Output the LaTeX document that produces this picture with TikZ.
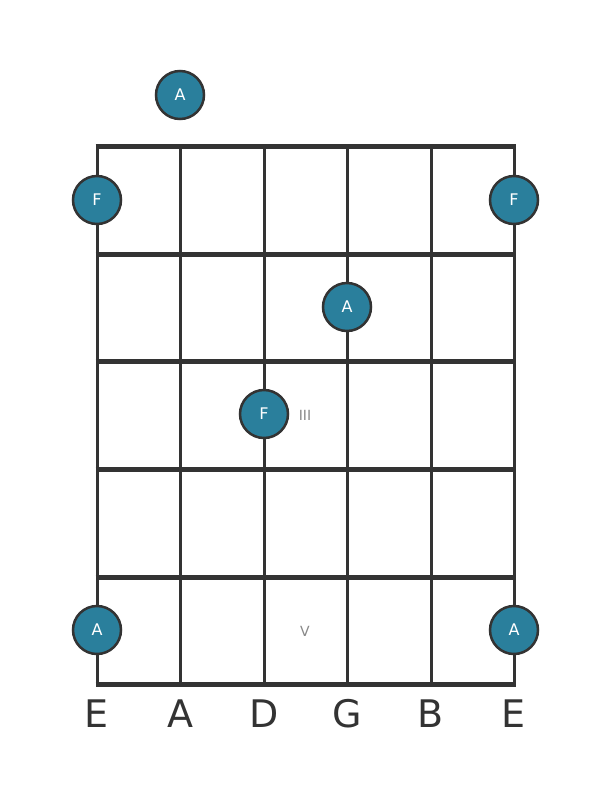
\documentclass[tikz,border=0pt]{standalone}
\usepackage{fontspec}
\setmainfont{DejaVu Sans}
\definecolor{teal1}{HTML}{2A7F9C}
\definecolor{ink}{HTML}{333333}
\definecolor{numgray}{HTML}{888888}
\begin{document}
\begin{tikzpicture}[x=1pt,y=-1pt,
  fret/.style={draw=ink,line width=5pt},
  string/.style={draw=ink,line width=3pt},
  dot/.style={circle,fill=teal1,draw=ink,line width=2.5pt,minimum size=48pt,inner sep=0pt,text=white,font=\fontsize{16}{16}\selectfont},
  lbl/.style={text=ink,font=\fontsize{38}{38}\selectfont},
  roman/.style={text=numgray,font=\fontsize{14}{14}\selectfont}]
\useasboundingbox (0,0) rectangle (611,801);
\foreach \x in {97,180,264,347,431,514} \draw[string] (\x,146) -- (\x,684);
\foreach \y in {146,254,361,469,577,684} \draw[fret] (95.5,\y) -- (515.5,\y);
\node[dot] (a0) at (180,95) {A};
\node[dot] (f1) at (97,200) {F};
\node[dot] (f2) at (514,200) {F};
\node[dot] (a1) at (347,307) {A};
\node[dot] (f3) at (264,414) {F};
\node[dot] (a2) at (97,630) {A};
\node[dot] (a3) at (514,630) {A};
\node[roman] (r3) at (305,415) {III};
\node[roman] (r5) at (305,631) {V};
\node[lbl] (s1) at (97,714) {E};
\node[lbl] (s2) at (180,714) {A};
\node[lbl] (s3) at (264,714) {D};
\node[lbl] (s4) at (347,714) {G};
\node[lbl] (s5) at (431,714) {B};
\node[lbl] (s6) at (514,714) {E};
\end{tikzpicture}
\end{document}
